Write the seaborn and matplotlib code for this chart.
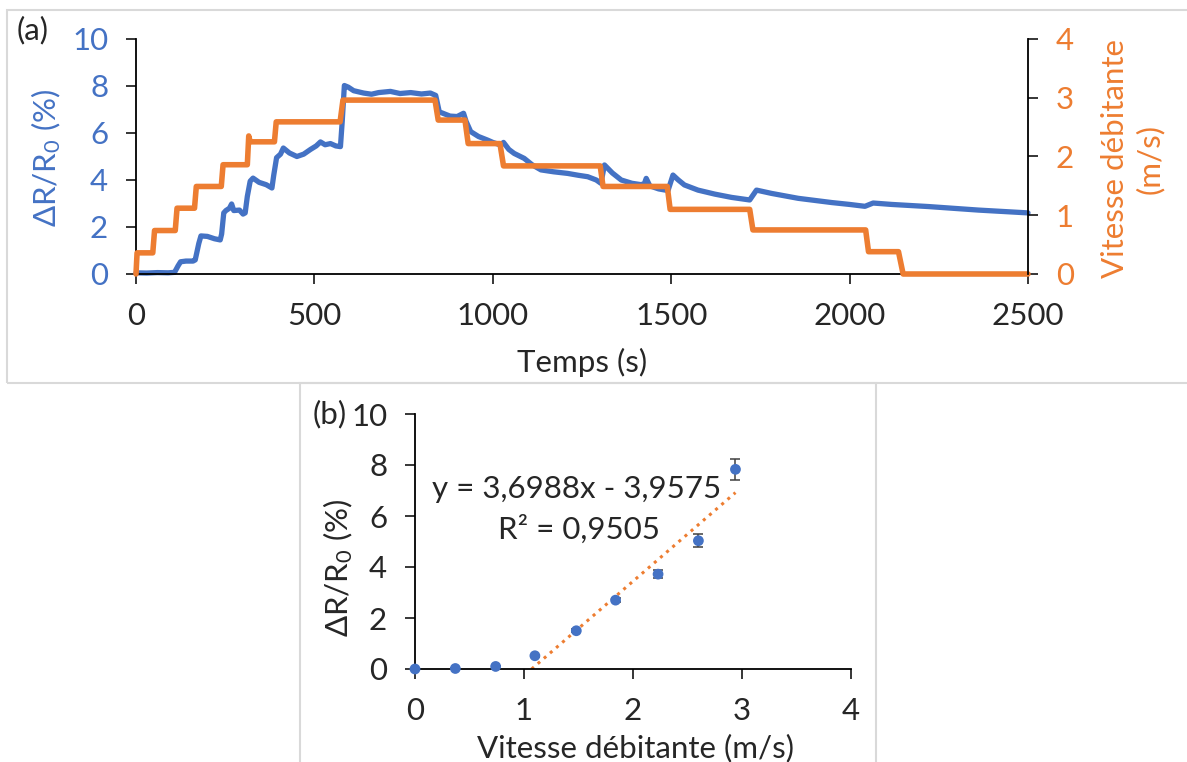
import numpy as np
import pandas as pd
import matplotlib
matplotlib.use('Agg')
import matplotlib.pyplot as plt
from matplotlib.patches import Rectangle
import seaborn as sns

BLUE = '#4472C4'
ORANGE = '#ED7D31'

# (a) resistance variation vs time (left axis)
t_resist = [0, 30, 60, 90, 108, 118, 125, 140, 160, 166, 176, 182, 200, 220, 236,
            240, 246, 252, 262, 268, 274, 290, 300, 306, 312, 320, 328, 345, 365, 381,
            386, 394, 405, 413, 430, 451, 470, 489, 505, 517, 530, 545, 560, 573, 578,
            584, 595, 610, 638, 660, 680, 713, 740, 770, 800, 825, 840, 850, 860, 880,
            900, 918, 925, 938, 960, 985, 1000, 1022, 1030, 1045, 1060, 1088, 1110, 1135, 1170,
            1210, 1240, 1266, 1290, 1303, 1313, 1335, 1360, 1390, 1416, 1425, 1430, 1440, 1465, 1491,
            1505, 1520, 1537, 1575, 1622, 1669, 1720, 1739, 1781, 1856, 1950, 2000, 2043, 2066, 2118,
            2221, 2361, 2500]
dr_resist = [0.05, 0.04, 0.06, 0.05, 0.07, 0.35, 0.52, 0.55, 0.55, 0.6, 1.3, 1.62, 1.6, 1.5, 1.45,
             1.7, 2.6, 2.7, 2.8, 2.98, 2.7, 2.72, 2.55, 2.6, 3.3, 3.95, 4.08, 3.9, 3.8, 3.66,
             4.2, 4.95, 5.1, 5.36, 5.15, 5.0, 5.1, 5.3, 5.45, 5.62, 5.5, 5.55, 5.45, 5.42, 6.5,
             8.02, 7.95, 7.8, 7.7, 7.65, 7.72, 7.77, 7.68, 7.72, 7.66, 7.7, 7.6, 6.9, 6.84, 6.72,
             6.7, 6.84, 6.5, 6.06, 5.85, 5.7, 5.6, 5.49, 5.6, 5.3, 5.13, 4.92, 4.65, 4.43, 4.35,
             4.28, 4.2, 4.14, 4.0, 3.86, 4.64, 4.3, 4.0, 3.86, 3.8, 3.85, 4.07, 3.75, 3.62, 3.55,
             4.21, 4.0, 3.79, 3.57, 3.4, 3.26, 3.15, 3.57, 3.43, 3.22, 3.04, 2.96, 2.88, 3.02, 2.96,
             2.87, 2.72, 2.6]

# (a) flow velocity vs time (right axis)
t_speed = [0, 3, 47, 52, 110, 115, 164, 169, 239, 244, 312, 316, 320, 388, 393,
           572, 580, 838, 847, 922, 931, 1020, 1030, 1301, 1309, 1489, 1497, 1720, 1729, 2045,
           2053, 2137, 2150, 2500]
speed = [0, 0.36, 0.36, 0.74, 0.74, 1.12, 1.12, 1.49, 1.49, 1.86, 1.86, 2.35, 2.25, 2.25, 2.59,
         2.59, 2.96, 2.96, 2.62, 2.62, 2.22, 2.22, 1.84, 1.84, 1.49, 1.49, 1.1, 1.1, 0.75, 0.75,
         0.38, 0.38, 0, 0]

# (b) mean response per velocity step
speed_levels = [0, 0.37, 0.74, 1.10, 1.48, 1.84, 2.23, 2.60, 2.94]
dr_mean = [0, 0.02, 0.10, 0.52, 1.50, 2.70, 3.72, 5.03, 7.83]
dr_err = [0, 0, 0, 0.03, 0.06, 0.08, 0.15, 0.26, 0.40]
fit_slope = 3.6988
fit_intercept = -3.9575
fit_r2 = 0.9505

sns.set_style('ticks')
plt.rcParams['font.family'] = ['Lato', 'DejaVu Sans']
plt.rcParams['mathtext.fontset'] = 'custom'
plt.rcParams['mathtext.rm'] = 'Lato'
plt.rcParams['mathtext.default'] = 'regular'

FS = 22.5
W, H = 1187, 762

fig = plt.figure(figsize=(W / 100, H / 100), dpi=100)


def frac(x0, y0, x1, y1):
    # pixel box (top-left origin) -> figure fraction rect
    return [x0 / W, 1 - y1 / H, (x1 - x0) / W, (y1 - y0) / H]


def style_axis(ax):
    for s in ax.spines.values():
        s.set_color('black')
        s.set_linewidth(1.3)
    ax.tick_params(direction='out', length=7, width=1.1, pad=13, labelsize=FS, color='black')


# panel frames
fig.patches.append(Rectangle((7 / W, 1 - 383 / H), 1.1, 373 / H, transform=fig.transFigure,
                             fill=False, edgecolor='#D9D9D9', lw=1.5, zorder=0))
fig.patches.append(Rectangle((300 / W, -0.1), 576 / W, 0.1 + 1 - 383 / H, transform=fig.transFigure,
                             fill=False, edgecolor='#D9D9D9', lw=1.5, zorder=0))

# ---- panel (a)
ax = fig.add_axes(frac(136, 39, 1028, 274))
ax2 = ax.twinx()
df_r = pd.DataFrame({'t': t_resist, 'dr': dr_resist})
df_v = pd.DataFrame({'t': t_speed, 'v': speed})
sns.lineplot(data=df_r, x='t', y='dr', ax=ax, color=BLUE, lw=3.8, sort=False, estimator=None,
             clip_on=False)
sns.lineplot(data=df_v, x='t', y='v', ax=ax2, color=ORANGE, lw=4, sort=False, estimator=None,
             clip_on=False)

ax.set_xlim(0, 2500)
ax.set_ylim(0, 10)
ax2.set_ylim(0, 4)
ax.set_xticks(range(0, 2501, 500))
ax.set_yticks(range(0, 11, 2))
ax2.set_yticks(range(0, 5))
style_axis(ax)
style_axis(ax2)
ax.spines['top'].set_visible(False)
ax.spines['right'].set_visible(False)
ax2.spines['top'].set_visible(False)
ax2.spines['left'].set_visible(False)
ax2.spines['bottom'].set_visible(False)
ax.tick_params(axis='y', labelcolor=BLUE)
ax2.tick_params(axis='y', labelcolor=ORANGE)

ax.set_xlabel('Temps (s)', fontsize=FS, va='center')
ax.xaxis.set_label_coords(0.5, -0.375)
ax.set_ylabel(r'ΔR/R$_0$ (%)', fontsize=FS, color=BLUE, va='center')
ax.yaxis.set_label_coords(-0.101, 0.494)
ax2.set_ylabel('Vitesse débitante\n(m/s)', fontsize=FS, color=ORANGE, va='center',
               linespacing=1.25)
ax2.yaxis.set_label_coords(1.117, 0.49)

fig.text(33 / W, 1 - 30 / H, '(a)', fontsize=FS, ha='center', va='center')

# ---- panel (b)
bx = fig.add_axes(frac(415, 414, 851, 669))
df_b = pd.DataFrame({'v': speed_levels, 'dr': dr_mean, 'err': dr_err})
bx.errorbar(df_b['v'], df_b['dr'], yerr=df_b['err'], fmt='none', ecolor='#404040',
            elinewidth=1.1, capsize=3.5, capthick=1.1, zorder=2)
sns.scatterplot(data=df_b, x='v', y='dr', ax=bx, color=BLUE, s=60, edgecolor='none',
                zorder=3, clip_on=False)

x_fit = np.array([-fit_intercept / fit_slope, max(speed_levels)])
bx.plot(x_fit, fit_slope * x_fit + fit_intercept, color=ORANGE, lw=2.2, ls=':', zorder=1)

eq = f'y = {fit_slope:.4f}x - {abs(fit_intercept):.4f}'.replace('.', ',')
r2 = f'R² = {fit_r2:.4f}'.replace('.', ',')
bx.text(1.48, 7.05, eq, fontsize=FS, ha='center', va='center')
bx.text(1.50, 5.5, r2, fontsize=FS, ha='center', va='center')

bx.set_xlim(0, 4)
bx.set_ylim(0, 10)
bx.set_xticks(range(0, 5))
bx.set_yticks(range(0, 11, 2))
style_axis(bx)
bx.spines['top'].set_visible(False)
bx.spines['right'].set_visible(False)
bx.set_xlabel('Vitesse débitante (m/s)', fontsize=FS, va='center')
bx.xaxis.set_label_coords(0.505, -0.31)
bx.set_ylabel(r'ΔR/R$_0$ (%)', fontsize=FS, va='center')
bx.yaxis.set_label_coords(-0.177, 0.396)

fig.text(330 / W, 1 - 414 / H, '(b)', fontsize=FS, ha='center', va='center')

fig.savefig('out.png', dpi=100)
